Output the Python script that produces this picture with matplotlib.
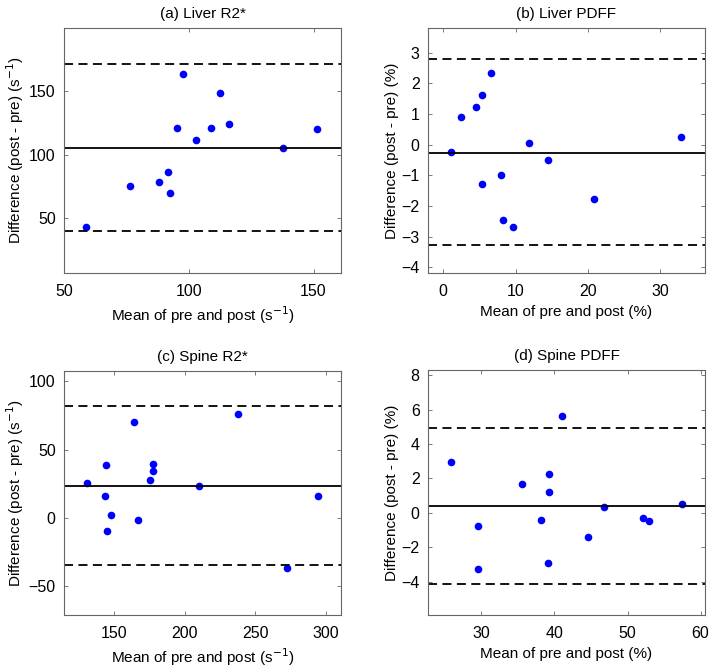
import numpy as np
import matplotlib
matplotlib.use("Agg")
import matplotlib.pyplot as plt

plt.rcParams['font.family'] = ['Liberation Sans', 'DejaVu Sans']

# (a) Liver R2*
liver_r2_mean = [58.8, 76.3, 88.0, 91.6, 92.5, 95.2, 97.5, 102.9, 109.0, 112.6, 116.3, 137.6, 151.5]
liver_r2_diff = [43.0, 75.6, 78.2, 86.6, 69.6, 120.5, 163.1, 111.1, 120.5, 147.9, 123.8, 105.3, 120.0]
liver_r2_lines = [105.2, 171.0, 40.1]   # bias, upper LoA, lower LoA

# (b) Liver PDFF
liver_pdff_mean = [1.1, 2.5, 4.56, 5.3, 6.6, 5.4, 8.0, 8.3, 9.6, 11.9, 14.5, 20.9, 32.9]
liver_pdff_diff = [-0.26, 0.89, 1.23, 1.63, 2.32, -1.29, -0.99, -2.46, -2.70, 0.04, -0.50, -1.78, 0.26]
liver_pdff_lines = [-0.27, 2.78, -3.29]

# (c) Spine R2*
spine_r2_mean = [130.9, 143.4, 144.6, 145.3, 147.6, 164.4, 166.7, 175.2, 177.3, 177.8, 210.5, 237.6, 272.2, 294.1]
spine_r2_diff = [25.5, 15.7, 38.5, -9.8, 2.2, 69.9, -1.2, 27.9, 39.2, 34.6, 23.3, 75.7, -37.0, 16.2]
spine_r2_lines = [23.3, 81.6, -34.8]

# (d) Spine PDFF
spine_pdff_mean = [25.9, 29.5, 29.5, 35.6, 38.1, 39.2, 39.3, 39.1, 41.0, 44.6, 46.8, 52.1, 53.0, 57.5]
spine_pdff_diff = [2.93, -0.77, -3.24, 1.70, -0.41, 2.28, 1.22, -2.92, 5.62, -1.39, 0.33, -0.31, -0.48, 0.50]
spine_pdff_lines = [0.41, 4.96, -4.15]

titles = ['(a) Liver R2*', '(b) Liver PDFF', '(c) Spine R2*', '(d) Spine PDFF']
xlabels = ['Mean of pre and post (s$^{-1}$)', 'Mean of pre and post (%)',
           'Mean of pre and post (s$^{-1}$)', 'Mean of pre and post (%)']
ylabels = ['Difference (post - pre) (s$^{-1}$)', 'Difference (post - pre) (%)',
           'Difference (post - pre) (s$^{-1}$)', 'Difference (post - pre) (%)']

W, H = 714, 668
fig = plt.figure(figsize=(W / 100, H / 100), dpi=100)

# axes boxes in pixels: left, right, top, bottom
boxes = [(64, 341, 28, 273), (428, 705, 28, 273),
         (64, 341, 371, 615), (428, 705, 370, 615)]
xlims = [(50, 161), (-2.1, 36.2), (114.7, 310.6), (22.7, 60.6)]
ylims = [(7.3, 199), (-4.19, 3.8), (-71, 107.4), (-5.93, 8.3)]
xticks = [[50, 100, 150], [0, 10, 20, 30], [150, 200, 250, 300], [30, 40, 50, 60]]
yticks = [[50, 100, 150], [-4, -3, -2, -1, 0, 1, 2, 3],
          [-50, 0, 50, 100], [-4, -2, 0, 2, 4, 6, 8]]

data = [(liver_r2_mean, liver_r2_diff, liver_r2_lines),
        (liver_pdff_mean, liver_pdff_diff, liver_pdff_lines),
        (spine_r2_mean, spine_r2_diff, spine_r2_lines),
        (spine_pdff_mean, spine_pdff_diff, spine_pdff_lines)]

for i, (x, y, lines) in enumerate(data):
    l, r, t, b = boxes[i]
    ax = fig.add_axes([l / W, 1 - b / H, (r - l) / W, (b - t) / H])
    ax.plot(x, y, 'o', color='#0000ff', markersize=5.5, markeredgewidth=0)
    ax.axhline(lines[0], color='black', lw=1.3)
    ax.axhline(lines[1], color='black', lw=1.3, ls=(0, (5, 3)))
    ax.axhline(lines[2], color='black', lw=1.3, ls=(0, (5, 3)))
    ax.set_xlim(xlims[i])
    ax.set_ylim(ylims[i])
    ax.set_xticks(xticks[i])
    ax.set_yticks(yticks[i])
    ax.tick_params(direction='in', length=3, width=0.6, color='#666666',
                   top=True, right=True, labelsize=11.5)
    ax.tick_params(axis='x', pad=8)
    ax.tick_params(axis='y', pad=6)
    for s in ax.spines.values():
        s.set_color('#666666')
        s.set_linewidth(0.8)
    ax.set_title(titles[i], fontsize=11, pad=7)
    ax.set_xlabel(xlabels[i], fontsize=11, labelpad=4)
    ax.set_ylabel(ylabels[i], fontsize=11, labelpad=2)

fig.savefig('out.png', dpi=100)
